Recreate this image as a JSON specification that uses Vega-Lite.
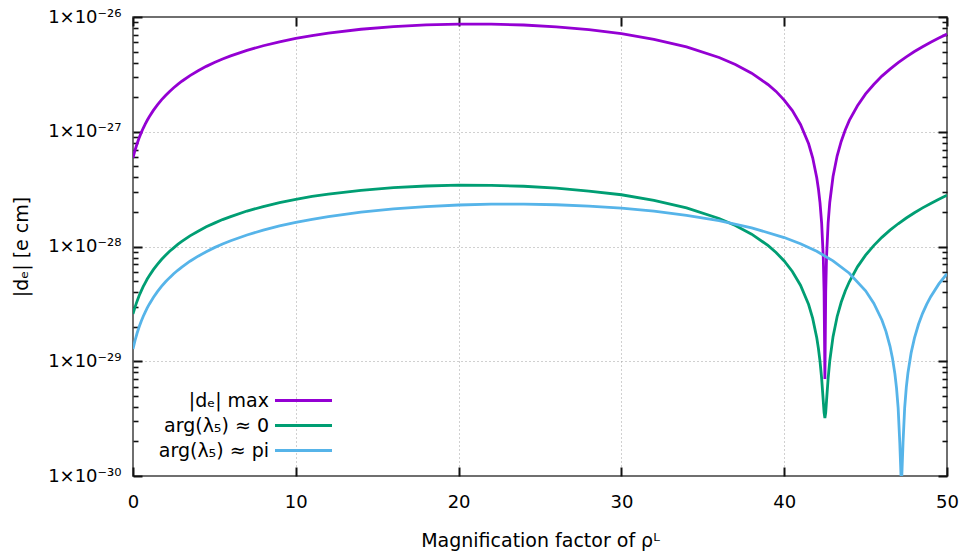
{
  "$schema": "https://vega.github.io/schema/vega-lite/v6.json",
  "width": 814,
  "height": 459,
  "autosize": {"type": "none"},
  "padding": {"left": 133, "top": 17, "right": 19, "bottom": 82},
  "background": "white",
  "config": {
    "font": "DejaVu Sans",
    "view": {"stroke": "#404040", "strokeWidth": 1.5},
    "axis": {
      "labelFont": "DejaVu Sans", "titleFont": "DejaVu Sans",
      "labelColor": "#000", "titleColor": "#000", "titleFontWeight": "normal",
      "labelFontSize": 18, "titleFontSize": 19,
      "labelOverlap": false, "labelBound": false, "labelFlush": false
    }
  },
  "data": {"values": [
    {"x":0,"v":5.93e-28,"s":"max"},{"x":0.125,"v":6.9e-28,"s":"max"},{"x":0.25,"v":7.86e-28,"s":"max"},{"x":0.375,"v":8.819e-28,"s":"max"},{"x":0.5,"v":9.77e-28,"s":"max"},{"x":0.625,"v":1.0715e-27,"s":"max"},{"x":0.75,"v":1.165e-27,"s":"max"},{"x":0.875,"v":1.2588e-27,"s":"max"},{"x":1,"v":1.351e-27,"s":"max"},{"x":1.25,"v":1.535e-27,"s":"max"},{"x":1.5,"v":1.716e-27,"s":"max"},{"x":1.75,"v":1.896e-27,"s":"max"},{"x":2,"v":2.072e-27,"s":"max"},{"x":2.25,"v":2.247e-27,"s":"max"},{"x":2.5,"v":2.419e-27,"s":"max"},{"x":2.75,"v":2.589e-27,"s":"max"},{"x":3,"v":2.756e-27,"s":"max"},{"x":3.5,"v":3.085e-27,"s":"max"},{"x":4,"v":3.402e-27,"s":"max"},{"x":4.5,"v":3.713e-27,"s":"max"},{"x":5,"v":4.012e-27,"s":"max"},{"x":5.5,"v":4.304e-27,"s":"max"},{"x":6,"v":4.584e-27,"s":"max"},{"x":7,"v":5.12e-27,"s":"max"},{"x":8,"v":5.616e-27,"s":"max"},{"x":9,"v":6.078e-27,"s":"max"},{"x":10,"v":6.5e-27,"s":"max"},{"x":11,"v":6.888e-27,"s":"max"},{"x":12,"v":7.235e-27,"s":"max"},{"x":14,"v":7.821e-27,"s":"max"},{"x":16,"v":8.257e-27,"s":"max"},{"x":18,"v":8.546e-27,"s":"max"},{"x":20,"v":8.685e-27,"s":"max"},{"x":22,"v":8.675e-27,"s":"max"},{"x":24,"v":8.517e-27,"s":"max"},{"x":26,"v":8.209e-27,"s":"max"},{"x":28,"v":7.753e-27,"s":"max"},{"x":30,"v":7.148e-27,"s":"max"},{"x":32,"v":6.393e-27,"s":"max"},{"x":34,"v":5.491e-27,"s":"max"},{"x":36,"v":4.439e-27,"s":"max"},{"x":37,"v":3.857e-27,"s":"max"},{"x":38,"v":3.238e-27,"s":"max"},{"x":39,"v":2.582e-27,"s":"max"},{"x":39.5,"v":2.247e-27,"s":"max"},{"x":40,"v":1.888e-27,"s":"max"},{"x":40.5,"v":1.528e-27,"s":"max"},{"x":41,"v":1.158e-27,"s":"max"},{"x":41.5,"v":7.86e-28,"s":"max"},{"x":41.75,"v":5.932e-28,"s":"max"},{"x":42,"v":3.978e-28,"s":"max"},{"x":42.1,"v":3.19e-28,"s":"max"},{"x":42.2,"v":2.398e-28,"s":"max"},{"x":42.3,"v":1.602e-28,"s":"max"},{"x":42.4,"v":8.03e-29,"s":"max"},{"x":42.45,"v":4.02e-29,"s":"max"},{"x":42.5,"v":7e-30,"s":"max"},{"x":42.55,"v":4.03e-29,"s":"max"},{"x":42.6,"v":8.07e-29,"s":"max"},{"x":42.7,"v":1.617e-28,"s":"max"},{"x":42.8,"v":2.431e-28,"s":"max"},{"x":43,"v":4.071e-28,"s":"max"},{"x":43.25,"v":6.141e-28,"s":"max"},{"x":43.5,"v":8.235e-28,"s":"max"},{"x":43.75,"v":1.035e-27,"s":"max"},{"x":44,"v":1.257e-27,"s":"max"},{"x":44.5,"v":1.684e-27,"s":"max"},{"x":45,"v":2.137e-27,"s":"max"},{"x":45.5,"v":2.582e-27,"s":"max"},{"x":46,"v":3.054e-27,"s":"max"},{"x":46.5,"v":3.517e-27,"s":"max"},{"x":47,"v":4.008e-27,"s":"max"},{"x":47.5,"v":4.49e-27,"s":"max"},{"x":48,"v":4.999e-27,"s":"max"},{"x":48.5,"v":5.499e-27,"s":"max"},{"x":49,"v":6.027e-27,"s":"max"},{"x":49.5,"v":6.546e-27,"s":"max"},{"x":50,"v":7.093e-27,"s":"max"},
    {"x":0,"v":2.586e-29,"s":"arg0"},{"x":0.125,"v":2.966e-29,"s":"arg0"},{"x":0.25,"v":3.34e-29,"s":"arg0"},{"x":0.375,"v":3.721e-29,"s":"arg0"},{"x":0.5,"v":4.085e-29,"s":"arg0"},{"x":0.625,"v":4.466e-29,"s":"arg0"},{"x":0.75,"v":4.824e-29,"s":"arg0"},{"x":0.875,"v":5.202e-29,"s":"arg0"},{"x":1,"v":5.553e-29,"s":"arg0"},{"x":1.25,"v":6.289e-29,"s":"arg0"},{"x":1.5,"v":6.985e-29,"s":"arg0"},{"x":1.75,"v":7.706e-29,"s":"arg0"},{"x":2,"v":8.38e-29,"s":"arg0"},{"x":2.25,"v":9.087e-29,"s":"arg0"},{"x":2.5,"v":9.739e-29,"s":"arg0"},{"x":2.75,"v":1.0431e-28,"s":"arg0"},{"x":3,"v":1.106e-28,"s":"arg0"},{"x":3.5,"v":1.2378e-28,"s":"arg0"},{"x":4,"v":1.36e-28,"s":"arg0"},{"x":4.5,"v":1.4846e-28,"s":"arg0"},{"x":5,"v":1.598e-28,"s":"arg0"},{"x":5.5,"v":1.7168e-28,"s":"arg0"},{"x":6,"v":1.822e-28,"s":"arg0"},{"x":7,"v":2.0375e-28,"s":"arg0"},{"x":8,"v":2.227e-28,"s":"arg0"},{"x":9,"v":2.4138e-28,"s":"arg0"},{"x":10,"v":2.572e-28,"s":"arg0"},{"x":11,"v":2.7315e-28,"s":"arg0"},{"x":12,"v":2.859e-28,"s":"arg0"},{"x":14,"v":3.087e-28,"s":"arg0"},{"x":16,"v":3.257e-28,"s":"arg0"},{"x":18,"v":3.368e-28,"s":"arg0"},{"x":20,"v":3.42e-28,"s":"arg0"},{"x":22,"v":3.414e-28,"s":"arg0"},{"x":24,"v":3.349e-28,"s":"arg0"},{"x":26,"v":3.225e-28,"s":"arg0"},{"x":28,"v":3.043e-28,"s":"arg0"},{"x":30,"v":2.825e-28,"s":"arg0"},{"x":32,"v":2.527e-28,"s":"arg0"},{"x":34,"v":2.17e-28,"s":"arg0"},{"x":36,"v":1.755e-28,"s":"arg0"},{"x":37,"v":1.525e-28,"s":"arg0"},{"x":38,"v":1.281e-28,"s":"arg0"},{"x":39,"v":1.022e-28,"s":"arg0"},{"x":39.5,"v":8.869e-29,"s":"arg0"},{"x":40,"v":7.482e-29,"s":"arg0"},{"x":40.5,"v":6.059e-29,"s":"arg0"},{"x":41,"v":4.6e-29,"s":"arg0"},{"x":41.5,"v":3.12e-29,"s":"arg0"},{"x":41.75,"v":2.363e-29,"s":"arg0"},{"x":42,"v":1.602e-29,"s":"arg0"},{"x":42.1,"v":1.299e-29,"s":"arg0"},{"x":42.2,"v":9.99e-30,"s":"arg0"},{"x":42.3,"v":7.08e-30,"s":"arg0"},{"x":42.4,"v":4.5e-30,"s":"arg0"},{"x":42.45,"v":3.57e-30,"s":"arg0"},{"x":42.5,"v":3.2e-30,"s":"arg0"},{"x":42.55,"v":3.57e-30,"s":"arg0"},{"x":42.6,"v":4.51e-30,"s":"arg0"},{"x":42.7,"v":7.13e-30,"s":"arg0"},{"x":42.8,"v":1.011e-29,"s":"arg0"},{"x":43,"v":1.638e-29,"s":"arg0"},{"x":43.25,"v":2.444e-29,"s":"arg0"},{"x":43.5,"v":3.265e-29,"s":"arg0"},{"x":43.75,"v":4.1e-29,"s":"arg0"},{"x":44,"v":4.929e-29,"s":"arg0"},{"x":44.5,"v":6.65e-29,"s":"arg0"},{"x":45,"v":8.398e-29,"s":"arg0"},{"x":45.5,"v":1.0188e-28,"s":"arg0"},{"x":46,"v":1.201e-28,"s":"arg0"},{"x":46.5,"v":1.388e-28,"s":"arg0"},{"x":47,"v":1.578e-28,"s":"arg0"},{"x":47.5,"v":1.771e-28,"s":"arg0"},{"x":48,"v":1.969e-28,"s":"arg0"},{"x":48.5,"v":2.17e-28,"s":"arg0"},{"x":49,"v":2.374e-28,"s":"arg0"},{"x":49.5,"v":2.582e-28,"s":"arg0"},{"x":50,"v":2.794e-28,"s":"arg0"},
    {"x":0,"v":1.28e-29,"s":"argpi"},{"x":0.125,"v":1.517e-29,"s":"argpi"},{"x":0.25,"v":1.753e-29,"s":"argpi"},{"x":0.375,"v":1.988e-29,"s":"argpi"},{"x":0.5,"v":2.221e-29,"s":"argpi"},{"x":0.625,"v":2.4535e-29,"s":"argpi"},{"x":0.75,"v":2.684e-29,"s":"argpi"},{"x":0.875,"v":2.914e-29,"s":"argpi"},{"x":1,"v":3.142e-29,"s":"argpi"},{"x":1.25,"v":3.595e-29,"s":"argpi"},{"x":1.5,"v":4.043e-29,"s":"argpi"},{"x":1.75,"v":4.486e-29,"s":"argpi"},{"x":2,"v":4.923e-29,"s":"argpi"},{"x":2.25,"v":5.355e-29,"s":"argpi"},{"x":2.5,"v":5.783e-29,"s":"argpi"},{"x":2.75,"v":6.205e-29,"s":"argpi"},{"x":3,"v":6.622e-29,"s":"argpi"},{"x":3.5,"v":7.441e-29,"s":"argpi"},{"x":4,"v":8.239e-29,"s":"argpi"},{"x":4.5,"v":9.017e-29,"s":"argpi"},{"x":5,"v":9.774e-29,"s":"argpi"},{"x":5.5,"v":1.0511e-28,"s":"argpi"},{"x":6,"v":1.123e-28,"s":"argpi"},{"x":7,"v":1.26e-28,"s":"argpi"},{"x":8,"v":1.389e-28,"s":"argpi"},{"x":9,"v":1.5097e-28,"s":"argpi"},{"x":10,"v":1.622e-28,"s":"argpi"},{"x":11,"v":1.7268e-28,"s":"argpi"},{"x":12,"v":1.823e-28,"s":"argpi"},{"x":14,"v":1.991e-28,"s":"argpi"},{"x":16,"v":2.126e-28,"s":"argpi"},{"x":18,"v":2.229e-28,"s":"argpi"},{"x":20,"v":2.299e-28,"s":"argpi"},{"x":22,"v":2.336e-28,"s":"argpi"},{"x":24,"v":2.34e-28,"s":"argpi"},{"x":26,"v":2.312e-28,"s":"argpi"},{"x":28,"v":2.251e-28,"s":"argpi"},{"x":30,"v":2.157e-28,"s":"argpi"},{"x":32,"v":2.031e-28,"s":"argpi"},{"x":34,"v":1.871e-28,"s":"argpi"},{"x":36,"v":1.679e-28,"s":"argpi"},{"x":38,"v":1.455e-28,"s":"argpi"},{"x":40,"v":1.197e-28,"s":"argpi"},{"x":41,"v":1.056e-28,"s":"argpi"},{"x":42,"v":9.074e-29,"s":"argpi"},{"x":43,"v":7.5e-29,"s":"argpi"},{"x":44,"v":5.845e-29,"s":"argpi"},{"x":45,"v":4.109e-29,"s":"argpi"},{"x":45.5,"v":3.21e-29,"s":"argpi"},{"x":46,"v":2.29e-29,"s":"argpi"},{"x":46.25,"v":1.823e-29,"s":"argpi"},{"x":46.5,"v":1.35e-29,"s":"argpi"},{"x":46.65,"v":1.064e-29,"s":"argpi"},{"x":46.8,"v":7.76e-30,"s":"argpi"},{"x":46.9,"v":5.836e-30,"s":"argpi"},{"x":47,"v":3.9e-30,"s":"argpi"},{"x":47.1,"v":1.95e-30,"s":"argpi"},{"x":47.2,"v":8e-31,"s":"argpi"},{"x":47.3,"v":1.96e-30,"s":"argpi"},{"x":47.4,"v":3.93e-30,"s":"argpi"},{"x":47.5,"v":5.91e-30,"s":"argpi"},{"x":47.6,"v":7.9e-30,"s":"argpi"},{"x":47.8,"v":1.189e-29,"s":"argpi"},{"x":48,"v":1.592e-29,"s":"argpi"},{"x":48.25,"v":2.1e-29,"s":"argpi"},{"x":48.5,"v":2.614e-29,"s":"argpi"},{"x":48.75,"v":3.133e-29,"s":"argpi"},{"x":49,"v":3.656e-29,"s":"argpi"},{"x":49.5,"v":4.719e-29,"s":"argpi"},{"x":50,"v":5.802e-29,"s":"argpi"}
  ]},
  "layer": [
    {
      "mark": {"type": "line", "strokeWidth": 2.8, "clip": true},
      "encoding": {
        "x": {
          "field": "x", "type": "quantitative",
          "scale": {"domain": [0, 50], "nice": false},
          "axis": {
            "orient": "bottom", "values": [0, 10, 20, 30, 40, 50],
            "title": "Magnification factor of ρᴸ", "domain": false,
            "offset": -9, "tickSize": 9, "tickColor": "#111111", "tickWidth": 2,
            "labelPadding": 17, "titlePadding": 20, "grid": false
          }
        },
        "y": {
          "field": "v", "type": "quantitative",
          "scale": {"type": "log", "domain": [1e-30, 1e-26], "nice": false},
          "axis": {
            "orient": "left", "values": [1e-30, 1e-29, 1e-28, 1e-27, 1e-26],
            "title": "|dₑ| [e cm]", "domain": false,
            "labelExpr": "'1×10' + ['⁻³⁰','⁻²⁹','⁻²⁸','⁻²⁷','⁻²⁶'][round(log(datum.value)/LN10) + 30]",
            "offset": -9, "tickSize": 9, "tickColor": "#111111", "tickWidth": 2,
            "labelPadding": 12, "titlePadding": 16, "grid": false
          }
        },
        "color": {
          "field": "s", "type": "nominal",
          "scale": {"domain": ["max", "arg0", "argpi"], "range": ["#9400d3", "#009e73", "#56b4e9"]},
          "legend": {
            "title": null, "orient": "none", "legendX": 161, "legendY": 374,
            "symbolType": "M-5,0H5", "symbolSize": 130, "symbolStrokeWidth": 2.8,
            "labelAlign": "right", "labelOffset": -44, "labelFontSize": 19, "labelFont": "DejaVu Sans",
            "labelColor": "#000", "labelLimit": 400, "rowPadding": 5,
            "labelExpr": "datum.label == 'max' ? '|dₑ| max' : datum.label == 'arg0' ? 'arg(λ₅) ≈ 0' : 'arg(λ₅) ≈ pi'"
          }
        }
      }
    },
    {
      "mark": {"type": "point", "opacity": 0},
      "encoding": {
        "x": {
          "field": "x", "type": "quantitative",
          "scale": {"domain": [0, 50], "nice": false},
          "axis": {"orient": "top", "values": [0, 10, 20, 30, 40, 50], "labels": false, "title": null, "domain": false, "offset": -9, "tickSize": 9, "tickColor": "#111111", "tickWidth": 2, "grid": false}
        },
        "y": {
          "field": "v", "type": "quantitative",
          "scale": {"type": "log", "domain": [1e-30, 1e-26], "nice": false},
          "axis": {"orient": "right", "values": [1e-30, 1e-29, 1e-28, 1e-27, 1e-26], "labels": false, "title": null, "domain": false, "offset": -9, "tickSize": 9, "tickColor": "#111111", "tickWidth": 2, "grid": false}
        }
      }
    },
    {
      "mark": {"type": "point", "opacity": 0},
      "encoding": {
        "x": {
          "field": "x", "type": "quantitative",
          "scale": {"domain": [0, 50], "nice": false},
          "axis": {"orient": "bottom", "values": [10, 20, 30, 40], "ticks": false, "labels": false, "title": null, "domain": false, "grid": true, "gridColor": "#a0a0a0", "gridDash": [1, 3], "gridWidth": 1}
        },
        "y": {
          "field": "v", "type": "quantitative",
          "scale": {"type": "log", "domain": [1e-30, 1e-26], "nice": false},
          "axis": {
            "orient": "left",
            "values": [2e-30,3e-30,4e-30,5e-30,6e-30,7e-30,8e-30,9e-30,2e-29,3e-29,4e-29,5e-29,6e-29,7e-29,8e-29,9e-29,2e-28,3e-28,4e-28,5e-28,6e-28,7e-28,8e-28,9e-28,2e-27,3e-27,4e-27,5e-27,6e-27,7e-27,8e-27,9e-27],
            "labels": false, "title": null, "domain": false, "offset": -5, "tickSize": 5, "tickColor": "#111111", "tickWidth": 1.6, "grid": false
          }
        }
      }
    },
    {
      "mark": {"type": "point", "opacity": 0},
      "encoding": {
        "x": {"field": "x", "type": "quantitative", "scale": {"domain": [0, 50], "nice": false}, "axis": null},
        "y": {
          "field": "v", "type": "quantitative",
          "scale": {"type": "log", "domain": [1e-30, 1e-26], "nice": false},
          "axis": {
            "orient": "right",
            "values": [2e-30,3e-30,4e-30,5e-30,6e-30,7e-30,8e-30,9e-30,2e-29,3e-29,4e-29,5e-29,6e-29,7e-29,8e-29,9e-29,2e-28,3e-28,4e-28,5e-28,6e-28,7e-28,8e-28,9e-28,2e-27,3e-27,4e-27,5e-27,6e-27,7e-27,8e-27,9e-27],
            "labels": false, "title": null, "domain": false, "offset": -5, "tickSize": 5, "tickColor": "#111111", "tickWidth": 1.6, "grid": false
          }
        }
      }
    },
    {
      "mark": {"type": "point", "opacity": 0},
      "encoding": {
        "x": {"field": "x", "type": "quantitative", "scale": {"domain": [0, 50], "nice": false}, "axis": null},
        "y": {
          "field": "v", "type": "quantitative",
          "scale": {"type": "log", "domain": [1e-30, 1e-26], "nice": false},
          "axis": {"orient": "left", "values": [1e-29, 1e-28, 1e-27], "ticks": false, "labels": false, "title": null, "domain": false, "grid": true, "gridColor": "#a0a0a0", "gridDash": [1, 3], "gridWidth": 1}
        }
      }
    }
  ],
  "resolve": {"axis": {"x": "independent", "y": "independent"}}
}
